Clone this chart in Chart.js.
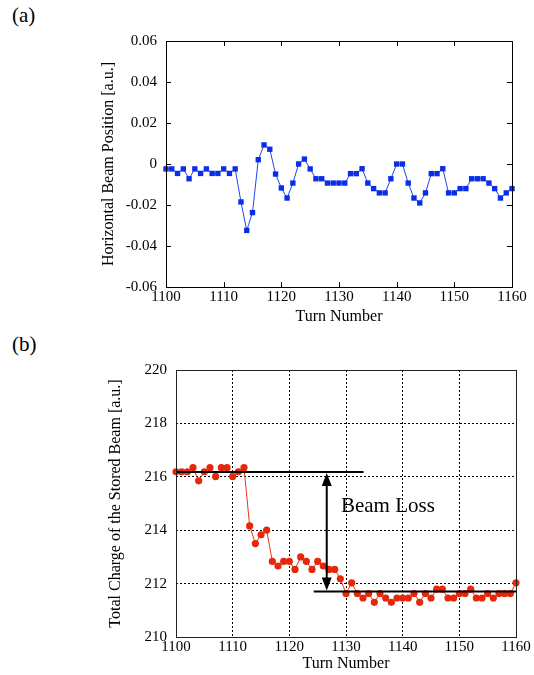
<!DOCTYPE html>
<html><head><meta charset="utf-8">
<script src="https://cdn.jsdelivr.net/npm/chart.js@4.4.1/dist/chart.umd.min.js"></script>
<style>
html,body{margin:0;padding:0;background:#fff;}
body{width:534px;height:675px;position:relative;overflow:hidden;font-family:"Liberation Serif",serif;}
canvas{position:absolute;left:0;}
#ca{top:0;}
#cb{top:335px;}
.lab{position:absolute;left:12px;font-size:21px;line-height:1;font-family:"Liberation Serif",serif;color:#000;}
</style></head><body>
<div class="lab" style="top:5px">(a)</div>
<div class="lab" style="top:334px">(b)</div>
<canvas id="ca" width="534" height="335"></canvas>
<canvas id="cb" width="534" height="340"></canvas>
<script>
const turns = [1100,1101,1102,1103,1104,1105,1106,1107,1108,1109,
  1110,1111,1112,1113,1114,1115,1116,1117,1118,1119,
  1120,1121,1122,1123,1124,1125,1126,1127,1128,1129,
  1130,1131,1132,1133,1134,1135,1136,1137,1138,1139,
  1140,1141,1142,1143,1144,1145,1146,1147,1148,1149,
  1150,1151,1152,1153,1154,1155,1156,1157,1158,1159,1160];

const positionValues = [-0.0024,-0.0024,-0.0046,-0.0024,-0.0072,-0.0024,-0.0046,-0.0024,-0.0046,-0.0046,
  -0.0024,-0.0046,-0.0024,-0.0185,-0.0324,-0.0237,0.0021,0.0093,0.0072,-0.0049,
  -0.0117,-0.0166,-0.0093,0.0,0.0024,-0.0024,-0.0072,-0.0072,-0.0093,-0.0093,
  -0.0093,-0.0093,-0.0047,-0.0047,-0.0023,-0.0093,-0.0120,-0.0141,-0.0141,-0.0072,
  0.0,0.0,-0.0093,-0.0166,-0.0190,-0.0141,-0.0047,-0.0047,-0.0023,-0.0141,
  -0.0141,-0.0120,-0.0120,-0.0072,-0.0072,-0.0072,-0.0093,-0.0120,-0.0166,-0.0141,-0.0120];

const chargeValues = [216.19,216.19,216.19,216.34,215.85,216.19,216.34,216.01,216.34,216.34,
  216.01,216.19,216.34,214.16,213.50,213.83,214.00,212.83,212.66,212.83,
  212.83,212.53,213.00,212.83,212.53,212.83,212.66,212.53,212.53,212.18,
  211.63,212.03,211.63,211.46,211.63,211.30,211.63,211.46,211.30,211.46,
  211.46,211.46,211.63,211.30,211.63,211.46,211.79,211.79,211.46,211.46,
  211.63,211.63,211.79,211.46,211.46,211.63,211.46,211.63,211.63,211.63,212.03];

const xTicks = [1100,1110,1120,1130,1140,1150,1160];
const posTicks = [-0.06,-0.04,-0.02,0,0.02,0.04,0.06];
const chargeTicks = [210,212,214,216,218,220];

const beamLevels = [216.18, 211.70];
const levelSpans = [[1100,1133.1],[1124.3,1160]];
const arrowTurn = 1126.6;
const lossLabel = 'Beam Loss';
const lossLabelAt = [1129.1, 214.9];

const SERIF = '"Liberation Serif", "Times New Roman", serif';
Chart.defaults.font.family = SERIF;
Chart.defaults.color = '#000';
const tickFont = {family: SERIF, size: 15};
const titleFont = {family: SERIF, size: 16};

const framePlugin = {
  id: 'frame',
  afterDraw(chart, args, opts) {
    const {ctx, chartArea: a, scales} = chart;
    ctx.save();
    if (opts.inwardTicks) {
      ctx.strokeStyle = '#000';
      ctx.lineWidth = 1;
      const L = 5;
      ctx.beginPath();
      xTicks.forEach(v => {
        const x = Math.round(scales.x.getPixelForValue(v)) + 0.5;
        ctx.moveTo(x, a.top); ctx.lineTo(x, a.top + L);
        ctx.moveTo(x, a.bottom); ctx.lineTo(x, a.bottom - L);
      });
      posTicks.forEach(v => {
        const y = Math.round(scales.y.getPixelForValue(v)) + 0.5;
        ctx.moveTo(a.left, y); ctx.lineTo(a.left + L, y);
        ctx.moveTo(a.right, y); ctx.lineTo(a.right - L, y);
      });
      ctx.stroke();
    }
    ctx.strokeStyle = opts.color || '#000';
    ctx.lineWidth = opts.width || 1;
    ctx.strokeRect(Math.round(a.left) + 0.5, Math.round(a.top) + 0.5,
      Math.round(a.right - a.left), Math.round(a.bottom - a.top));
    ctx.restore();
  }
};

const annotPlugin = {
  id: 'annot',
  afterDatasetsDraw(chart) {
    const {ctx, scales: {x: xs, y: ys}} = chart;
    ctx.save();
    ctx.strokeStyle = '#000';
    ctx.fillStyle = '#000';
    ctx.lineWidth = 2;
    beamLevels.forEach((lv, i) => {
      const y = ys.getPixelForValue(lv);
      ctx.beginPath();
      ctx.moveTo(xs.getPixelForValue(levelSpans[i][0]), y);
      ctx.lineTo(xs.getPixelForValue(levelSpans[i][1]), y);
      ctx.stroke();
    });
    const ax = xs.getPixelForValue(arrowTurn);
    const y1 = ys.getPixelForValue(beamLevels[0]) + 1;
    const y2 = ys.getPixelForValue(beamLevels[1]) - 1;
    const hl = 13, hw = 5;
    ctx.beginPath();
    ctx.moveTo(ax, y1 + hl - 2); ctx.lineTo(ax, y2 - hl + 2);
    ctx.stroke();
    ctx.beginPath();
    ctx.moveTo(ax, y1); ctx.lineTo(ax - hw, y1 + hl); ctx.lineTo(ax + hw, y1 + hl); ctx.closePath();
    ctx.fill();
    ctx.beginPath();
    ctx.moveTo(ax, y2); ctx.lineTo(ax - hw, y2 - hl); ctx.lineTo(ax + hw, y2 - hl); ctx.closePath();
    ctx.fill();
    ctx.font = '21px ' + SERIF;
    ctx.textAlign = 'left';
    ctx.textBaseline = 'middle';
    ctx.fillText(lossLabel, xs.getPixelForValue(lossLabelAt[0]), ys.getPixelForValue(lossLabelAt[1]));
    ctx.restore();
  }
};

const baseOpts = {
  responsive: false,
  animation: false,
  events: [],
  plugins: {legend: {display: false}, tooltip: {enabled: false}}
};

new Chart(document.getElementById('ca'), {
  type: 'line',
  data: {
    datasets: [{
      data: turns.map((t, i) => ({x: t, y: positionValues[i]})),
      borderColor: '#2445e6',
      borderWidth: 1,
      pointStyle: 'rect',
      pointRadius: 3.8,
      pointBackgroundColor: '#0a2ee8',
      pointBorderWidth: 0,
      tension: 0,
      clip: false
    }]
  },
  options: {
    ...baseOpts,
    layout: {padding: {left: 0, right: 22, top: 41, bottom: 0}},
    plugins: {...baseOpts.plugins, frame: {inwardTicks: true, color: '#000', width: 1}},
    scales: {
      x: {
        type: 'linear', min: 1100, max: 1160,
        afterFit(s) { s.height = 48; },
        afterBuildTicks(s) { s.ticks = xTicks.map(v => ({value: v})); },
        grid: {display: false, drawTicks: false},
        border: {display: false},
        ticks: {padding: 1, color: '#000', font: tickFont, autoSkip: false, maxRotation: 0,
          callback: v => String(v)},
        title: {display: true, text: 'Turn Number', color: '#000', font: titleFont,
          padding: {top: 0, bottom: 9}}
      },
      y: {
        type: 'linear', min: -0.06, max: 0.06,
        afterFit(s) { s.width = 166; },
        afterBuildTicks(s) { s.ticks = posTicks.map(v => ({value: v})); },
        grid: {display: false, drawTicks: false},
        border: {display: false},
        ticks: {padding: 9, color: '#000', font: tickFont, autoSkip: false,
          callback: v => (Math.abs(v) < 1e-9 ? '0' : v.toFixed(2))},
        title: {display: true, text: 'Horizontal Beam Position [a.u.]', color: '#000', font: titleFont,
          padding: {top: 99, bottom: 0}}
      }
    }
  },
  plugins: [framePlugin]
});

new Chart(document.getElementById('cb'), {
  type: 'line',
  data: {
    datasets: [{
      data: turns.map((t, i) => ({x: t, y: chargeValues[i]})),
      borderColor: '#e8350f',
      borderWidth: 1,
      pointStyle: 'circle',
      pointRadius: 3.6,
      pointBackgroundColor: '#e6280a',
      pointBorderWidth: 0,
      tension: 0,
      clip: false
    }]
  },
  options: {
    ...baseOpts,
    layout: {padding: {left: 0, right: 18, top: 35, bottom: 0}},
    plugins: {...baseOpts.plugins, frame: {inwardTicks: false, color: '#222', width: 1}},
    scales: {
      x: {
        type: 'linear', min: 1100, max: 1160,
        afterFit(s) { s.height = 38; },
        afterBuildTicks(s) { s.ticks = xTicks.map(v => ({value: v})); },
        grid: {display: true, drawTicks: false, color: '#000', lineWidth: 1},
        border: {display: false, dash: [2, 2]},
        ticks: {padding: 1, color: '#000', font: tickFont, autoSkip: false, maxRotation: 0,
          callback: v => String(v)},
        title: {display: true, text: 'Turn Number', color: '#000', font: titleFont,
          padding: {top: 0, bottom: 2}}
      },
      y: {
        type: 'linear', min: 210, max: 220,
        afterFit(s) { s.width = 176; },
        afterBuildTicks(s) { s.ticks = chargeTicks.map(v => ({value: v})); },
        grid: {display: true, drawTicks: false, color: '#000', lineWidth: 1},
        border: {display: false, dash: [2, 2]},
        ticks: {padding: 9, color: '#000', font: tickFont, autoSkip: false,
          callback: v => String(v)},
        title: {display: true, text: 'Total Charge of the Stored Beam [a.u.]', color: '#000', font: titleFont,
          padding: {top: 106, bottom: 0}}
      }
    }
  },
  plugins: [framePlugin, annotPlugin]
});
</script>
</body></html>
